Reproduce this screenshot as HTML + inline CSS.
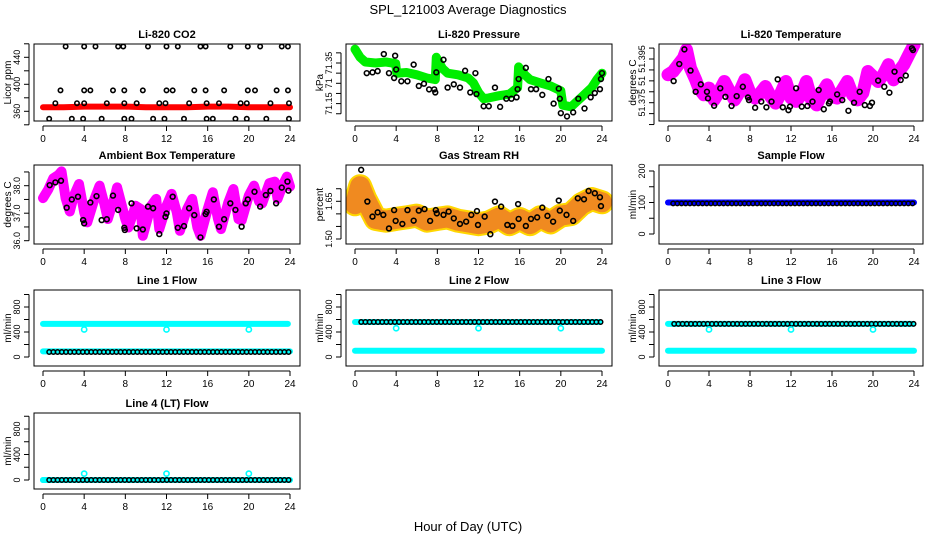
<!DOCTYPE html>
<html><head><meta charset="utf-8"><style>
html,body{margin:0;padding:0;background:#fff;}
svg text{font-family:"Liberation Sans",Arial,sans-serif;}
</style></head><body>
<svg id="chart" xmlns="http://www.w3.org/2000/svg" width="936" height="540" viewBox="0 0 936 540">
<rect width="936" height="540" fill="#fff"/>
<text x="468" y="14" font-size="13" text-anchor="middle">SPL_121003  Average Diagnostics</text>
<text x="468" y="531" font-size="13" text-anchor="middle">Hour of Day (UTC)</text>
</svg>
<script>
// ---- data ----
const xTicks=[0,4,8,12,16,20,24];
const co2BandHours=[0,2,4,6,8,10,12,14,16,18,20,22,24];
const co2BandVals=[366,366,367,367,367,366,366,366,367,367,366,366,366];
const co2TopHours=[2.2,4.0,5.1,7.3,7.8,10.2,12.0,13.1,15.3,15.8,18.2,19.9,21.1,23.2,23.8];
const co2MidHours=[1.7,4.0,4.6,6.8,7.9,9.7,12.0,12.6,14.7,15.8,17.6,19.9,20.6,22.7,23.8];
const co2LowHours=[1.2,3.3,4.0,6.2,7.9,9.1,11.3,11.9,14.2,15.9,17.1,19.2,19.8,22.1,23.9];
const co2BotHours=[0.6,2.8,3.9,5.7,7.9,8.6,10.7,11.8,13.7,15.9,16.5,18.7,19.8,21.7,23.9];
const co2Levels=[456,391,372,349];
const presBandHours=[0,0.5,1,2,3,3.95,4.05,5,6,7,7.8,7.9,8.5,9,10,11,11.5,12,12.5,13,14,15,15.8,15.9,16.5,17,18,19,20,20.2,21,21.5,22,22.5,23,23.5,24];
const presBandVals=[71.418,71.378,71.355,71.35,71.355,71.347,71.30,71.303,71.292,71.276,71.268,71.378,71.323,71.30,71.292,71.276,71.252,71.205,71.174,71.178,71.189,71.197,71.229,71.331,71.292,71.268,71.252,71.237,71.213,71.142,71.134,71.158,71.181,71.205,71.229,71.268,71.30];
const presPtHours=[1.14,1.7,2.2,2.8,3.3,3.8,3.9,4.0,4.5,5.1,5.7,6.2,6.7,7.2,7.7,7.8,7.9,8.6,9.0,9.6,10.2,10.7,11.2,11.7,11.8,12.5,13.0,13.6,14.1,14.7,15.2,15.7,15.8,15.9,16.6,17.1,17.6,18.2,18.8,19.3,19.8,19.9,20.0,20.6,21.2,21.7,22.3,22.9,23.3,23.8,23.9,24.0];
const presPtVals=[71.30,71.304,71.31,71.394,71.30,71.276,71.386,71.318,71.26,71.26,71.342,71.237,71.248,71.22,71.22,71.205,71.304,71.366,71.229,71.245,71.229,71.312,71.205,71.30,71.197,71.137,71.137,71.229,71.134,71.174,71.174,71.181,71.221,71.271,71.326,71.221,71.221,71.193,71.271,71.15,71.224,71.174,71.103,71.087,71.107,71.174,71.126,71.181,71.202,71.221,71.271,71.30];
const tempBandHours=[0,0.5,1,1.5,1.8,2.2,2.7,3,3.5,4,4.5,5,5.5,6,6.5,7,7.5,8,8.5,9,9.5,10,10.5,11,11.5,12,12.5,13,13.5,14,14.5,15,15.5,16,16.5,17,17.5,18,18.5,19,19.5,20,20.5,21,21.5,22,22.5,23,23.5,24];
const tempBandVals=[51.3878,51.3893,51.3924,51.3954,51.3992,51.3908,51.3855,51.3817,51.3786,51.3817,51.3763,51.3802,51.3847,51.3802,51.3763,51.3802,51.3855,51.3794,51.3771,51.3794,51.3824,51.3779,51.3748,51.3794,51.3847,51.3771,51.3756,51.3786,51.3847,51.3763,51.3740,51.3794,51.3832,51.3779,51.3771,51.3809,51.3847,51.3786,51.3763,51.3794,51.3893,51.3870,51.3847,51.3878,51.3924,51.3855,51.3893,51.3924,51.3970,51.4015];
const tempPtHours=[0.55,1.1,1.6,2.2,2.7,3.2,3.8,3.9,4.5,5.1,5.6,6.2,6.7,7.3,7.8,7.9,8.5,9.1,9.6,10.1,10.7,11.2,11.75,11.9,12.5,13.05,13.6,14.1,14.7,15.2,15.7,15.8,16.5,17.0,17.6,18.15,18.7,19.2,19.7,19.9,20.5,21.1,21.6,22.1,22.7,23.2,23.8,23.9];
const tempPtVals=[51.3849,51.3927,51.3994,51.3897,51.380,51.3834,51.380,51.377,51.3736,51.3816,51.3777,51.3735,51.378,51.3823,51.3774,51.3762,51.3727,51.3755,51.3729,51.3755,51.3857,51.3729,51.3716,51.3732,51.3816,51.3732,51.3735,51.3755,51.3808,51.372,51.3747,51.3755,51.3788,51.3762,51.3713,51.375,51.380,51.3739,51.3735,51.375,51.3851,51.3823,51.3796,51.3892,51.3854,51.3874,51.3999,51.3991];
const ambBandHours=[0,0.5,1,1.5,1.8,2.2,2.6,3,3.5,4,4.3,5,5.5,6,6.3,7,7.2,8,8.3,9,9.5,9.7,10.5,11,11.3,12,12.5,13,13.3,14,14.5,15,15.3,16,16.5,17,17.3,18,18.5,19,19.3,20,20.5,21,21.3,22,22.5,22.8,23.3,23.7,24];
const ambBandVals=[37.55,37.85,38.27,38.39,38.52,37.55,37.06,37.64,38.06,37.03,36.67,37.52,38.0,37.27,36.79,37.64,37.94,36.79,36.48,37.27,37.15,36.18,37.27,37.52,36.42,37.27,37.7,37.03,36.36,37.15,37.52,36.48,36.18,37.15,37.76,36.79,36.42,37.39,37.88,36.79,36.73,37.64,38.0,37.42,37.36,38.09,38.15,37.52,38.03,38.33,37.97];
const ambPtHours=[0.65,1.2,1.75,2.3,2.8,3.4,3.9,4.0,4.6,5.2,5.7,6.2,6.8,7.3,7.9,7.95,8.6,9.1,9.7,10.2,10.7,11.3,11.9,12.0,12.6,13.1,13.7,14.2,14.7,15.3,15.8,15.9,16.6,17.1,17.6,18.2,18.7,19.3,19.7,19.9,20.55,21.1,21.65,22.1,22.65,23.2,23.75,23.85];
const ambPtVals=[38.02,38.12,38.18,37.2,37.5,37.6,36.75,36.63,37.39,37.62,36.75,36.78,37.64,37.12,36.47,36.39,37.36,36.45,36.41,37.24,37.18,36.24,36.87,36.99,37.6,36.47,36.53,37.18,36.93,36.12,36.97,37.05,37.5,36.51,36.78,37.36,37.12,36.51,37.36,37.5,37.78,37.24,37.66,37.81,37.36,37.93,38.15,37.82];
const rhBandHours=[0,0.5,1,2,3,4,5,6,7,8,9,10,11,12,13,14,15,16,17,18,19,20,21,22,23,24];
const rhBandVals=[1.638,1.71,1.659,1.58,1.573,1.58,1.586,1.593,1.573,1.58,1.586,1.573,1.566,1.559,1.566,1.586,1.559,1.58,1.559,1.586,1.566,1.593,1.599,1.638,1.659,1.646];
const rhPtHours=[0.6,1.2,1.7,2.2,2.75,3.3,3.8,3.95,4.6,5.1,5.7,6.2,6.75,7.3,7.85,7.95,8.6,9.1,9.6,10.2,10.8,11.3,11.85,11.95,12.6,13.15,13.6,14.2,14.8,15.3,15.85,15.9,16.6,17.1,17.7,18.2,18.7,19.25,19.8,19.9,20.55,21.2,21.65,22.25,22.7,23.3,23.8,23.9];
const rhPtVals=[1.775,1.649,1.589,1.606,1.596,1.542,1.615,1.572,1.56,1.615,1.573,1.613,1.619,1.572,1.615,1.602,1.596,1.609,1.582,1.56,1.569,1.596,1.611,1.556,1.589,1.519,1.649,1.629,1.556,1.552,1.639,1.58,1.552,1.58,1.586,1.625,1.592,1.569,1.653,1.613,1.596,1.572,1.662,1.658,1.691,1.682,1.666,1.631];
const sampleBandVal=[100];
const samplePtVal=[97];
const outlierHours=[4,12,20];
const line1Vals={cyanHigh:530,cyanLow:90,black:80,outlier:440};
const line2Vals={cyanHigh:560,cyanLow:100,black:560,outlier:460};
const line3Vals={cyanHigh:530,cyanLow:100,black:530,outlier:440};
const line4Vals={cyanHigh:0,cyanLow:0,black:0,outlier:100};

// ---- layout ----
const NS='http://www.w3.org/2000/svg';
const svg=document.getElementById('chart');
const cols=[{l:34,w:266,x0:43,x24:290},{l:346,w:266,x0:355,x24:602},{l:659,w:264,x0:668,x24:914}];
const rows=[{t:44,h:77},{t:165,h:79},{t:290,h:76},{t:413,h:76}];
function mk(tag,attrs,parent){const e=document.createElementNS(NS,tag);for(const k in attrs)e.setAttribute(k,attrs[k]);(parent||svg).appendChild(e);return e;}
function panel(ci,ri,name,title,ylab,cal,yticks,ylabels){
  const c=cols[ci],r=rows[ri];
  const g=mk('g',{});
  
  
  const X=h=>c.x0+h*(c.x24-c.x0)/24;
  const Y=v=>cal[1]+(v-cal[0])*(cal[3]-cal[1])/(cal[2]-cal[0]);
  const clipId='clip-'+name;
  const cp=mk('clipPath',{id:clipId},g);
  mk('rect',{x:c.l,y:r.t,width:c.w,height:r.h},cp);
  const plot=mk('g',{'clip-path':'url(#'+clipId+')'},g);
  
  
  const box=mk('rect',{x:c.l,y:r.t,width:c.w,height:r.h,fill:'none',stroke:'#000','stroke-width':1},g);
  
  
  const t=mk('text',{x:c.l+c.w/2,y:r.t-6,'font-size':11,'font-weight':'bold','text-anchor':'middle'},g);
  t.textContent=title;
  
  
  const xa=mk('g',{},g);
  
  
  const yb=r.t+r.h;
  mk('line',{x1:X(0),x2:X(24),y1:yb+5,y2:yb+5,stroke:'#000'},xa);
  xTicks.forEach(v=>{mk('line',{x1:X(v),x2:X(v),y1:yb+5,y2:yb+10,stroke:'#000'},xa);
    const tl=mk('text',{x:X(v),y:yb+21,'font-size':10,'text-anchor':'middle'},xa);tl.textContent=v;
    
    });
  const ya=mk('g',{},g);
  
  
  const xl=c.l-5;
  mk('line',{x1:xl,x2:xl,y1:Y(yticks[0]),y2:Y(yticks[yticks.length-1]),stroke:'#000'},ya);
  yticks.forEach(v=>mk('line',{x1:xl-5,x2:xl,y1:Y(v),y2:Y(v),stroke:'#000'},ya));
  ylabels.forEach(([v,s])=>{const y=Y(v);const tl=mk('text',{x:xl-9,y:y,'font-size':9,'text-anchor':'middle',transform:`rotate(-90 ${xl-9} ${y})`},ya);tl.textContent=s;
    
    });
  const yl=mk('text',{x:c.l-23,y:r.t+r.h/2,'font-size':10,'text-anchor':'middle',transform:`rotate(-90 ${c.l-23} ${r.t+r.h/2})`},ya);
  yl.textContent=ylab;
  
  
  return {plot,X,Y};
}
function band(p,hours,vals,color,w,name,extra){
  const pts=hours.map((h,i)=>p.X(h).toFixed(1)+','+p.Y(vals[i]).toFixed(1)).join(' ');
  const e=mk('polyline',Object.assign({points:pts,fill:'none',stroke:color,'stroke-width':w,'stroke-linejoin':'round','stroke-linecap':'round'},extra||{}),p.plot);
  
  
}
function points(p,hours,vals,color,name,r){
  hours.forEach((h,i)=>{const e=mk('circle',{cx:p.X(h),cy:p.Y(vals[i]),r:r||2.4,fill:'none',stroke:color,'stroke-width':1.6},p.plot);
    
    });
}
function chain(p,h0,h1,v,color,name){
  const x0=p.X(h0),x1=p.X(h1),y=p.Y(v);
  for(let x=x0;x<=x1;x+=4.2){const e=mk('circle',{cx:x,cy:y,r:2.2,fill:'none',stroke:color,'stroke-width':1.5},p.plot);
    
    }
}

// CO2
let p=panel(0,0,'co2','Li-820 CO2','Licor ppm',[360,111.3,400,84.3],[340,360,380,400,420,440,460],[[360,'360'],[400,'400'],[440,'440']]);
band(p,co2BandHours,co2BandVals,'#ff0000',6,'co2-band');
[co2TopHours,co2MidHours,co2LowHours,co2BotHours].forEach((hs,k)=>points(p,hs,hs.map(()=>co2Levels[k]),'#000','co2-point',2.2));
// Pressure
p=panel(1,0,'pressure','Li-820 Pressure','kPa',[71.35,63,71.15,103.6],[71.1,71.15,71.2,71.25,71.3,71.35,71.4],[[71.35,'71.35'],[71.25,'71'],[71.15,'71.15']]);
band(p,presBandHours,presBandVals,'#00ee00',9,'pressure-band');
points(p,presPtHours,presPtVals,'#000','pressure-point');
// Temperature
p=panel(2,0,'li820-temp','Li-820 Temperature','degrees C',[51.375,102.7,51.395,59],[51.365,51.37,51.375,51.38,51.385,51.39,51.395,51.4],[[51.395,'51.395'],[51.385,'51'],[51.375,'51.375']]);
band(p,tempBandHours,tempBandVals,'#ff00ff',13,'li820-temp-band');
points(p,tempPtHours,tempPtVals,'#000','li820-temp-point');
// Ambient
p=panel(0,1,'ambient','Ambient Box Temperature','degrees C',[38.0,185.7,36.0,240.7],[36,36.5,37,37.5,38,38.5],[[36,'36.0'],[37,'37.0'],[38,'38.0']]);
band(p,ambBandHours,ambBandVals,'#ff00ff',10,'ambient-band');
points(p,ambPtHours,ambPtVals,'#000','ambient-point');
// RH
p=panel(1,1,'rh','Gas Stream RH','percent',[1.65,201.3,1.5,239],[1.5,1.55,1.6,1.65,1.7],[[1.5,'1.50'],[1.65,'1.65']]);
band(p,rhBandHours,rhBandVals,'#ffd700',24,'rh-band-outer');
band(p,rhBandHours,rhBandVals,'#f08a20',20,'rh-band-inner',{'stroke-dasharray':'2 1'});
points(p,rhPtHours,rhPtVals,'#000','rh-point');
// Sample flow
p=panel(2,1,'sample-flow','Sample Flow','ml/min',[0,234,200,171],[0,50,100,150,200],[[0,'0'],[100,'100'],[200,'200']]);
band(p,[0,24],[sampleBandVal[0],sampleBandVal[0]],'#0000ff',6,'sample-flow-band');
chain(p,0.5,24,samplePtVal[0],'#000','sample-flow-point');
// Flows
function flow(ci,ri,name,title,vals,cal){
  const q=panel(ci,ri,name,title,'ml/min',cal,[0,200,400,600,800,1000],[[0,'0'],[400,'400'],[800,'800']]);
  band(q,[0,23.8],[vals.cyanHigh,vals.cyanHigh],'#00ffff',6,name+'-cyan-high');
  band(q,[0,24],[vals.cyanLow,vals.cyanLow],'#00ffff',6,name+'-cyan-low');
  chain(q,0.6,24,vals.black,'#000',name+'-point');
  points(q,outlierHours,outlierHours.map(()=>vals.outlier),'#00ffff',name+'-outlier',2.6);
}
flow(0,2,'line1-flow','Line 1 Flow',line1Vals,[0,357,800,307]);
flow(1,2,'line2-flow','Line 2 Flow',line2Vals,[0,357,800,307]);
flow(2,2,'line3-flow','Line 3 Flow',line3Vals,[0,357,800,307]);
flow(0,3,'line4-flow','Line 4 (LT) Flow',line4Vals,[0,480,800,429]);
</script>
</body></html>
